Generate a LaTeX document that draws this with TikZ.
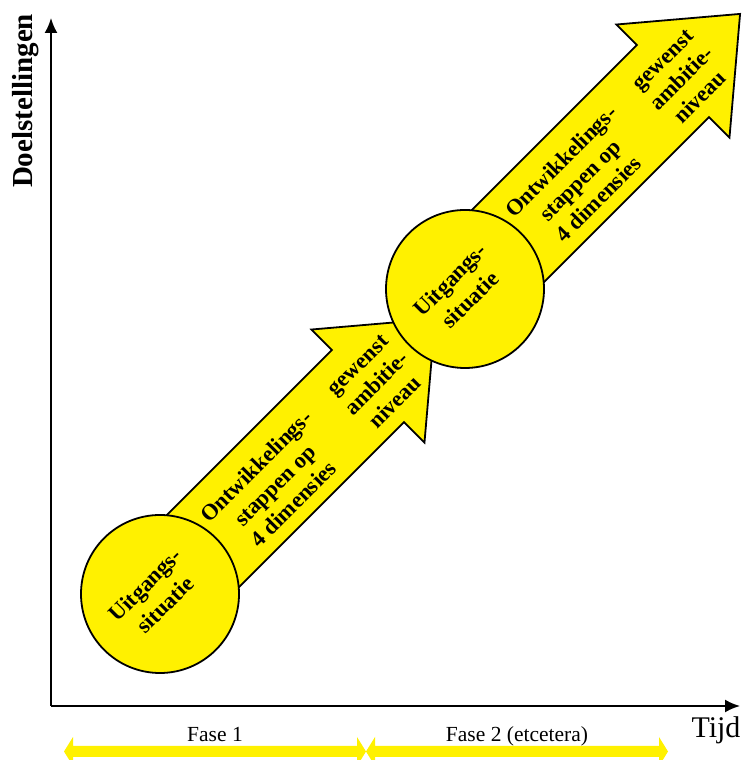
\documentclass[tikz,border=0pt]{standalone}
\usepackage{fontspec}
\setmainfont{Liberation Serif}
\usetikzlibrary{arrows.meta}
\definecolor{arrowyellow}{RGB}{255,241,0}

\begin{document}
\begin{tikzpicture}[x=1pt,y=1pt,
  bigarrow/.style={fill=arrowyellow, draw=black, line width=1.8pt, line join=miter},
  stagecircle/.style={circle, fill=arrowyellow, draw=black, line width=1.8pt,
    minimum size=158pt, inner sep=0pt},
  arrowtext/.style={font=\fontsize{22.5}{26.5}\selectfont\bfseries, align=center,
    rotate=45, inner sep=0pt},
  circletext/.style={font=\fontsize{22.5}{28}\selectfont\bfseries, align=center,
    rotate=45, inner sep=0pt},
  axisline/.style={line width=2pt, -{Latex[length=15pt,width=13pt]}},
  phasearrow/.style={fill=arrowyellow},
  phasetext/.style={font=\fontsize{21.5}{24}\selectfont, anchor=base, inner sep=0pt},
]
\useasboundingbox (0,0) rectangle (742,760);

% axes
\coordinate (origin) at (51,54);
\coordinate (ytip) at (51,742);
\coordinate (xtip) at (740,54);
\draw[axisline] (origin) -- (ytip);
\draw[axisline] (origin) -- (xtip);
\node[rotate=90, font=\fontsize{29}{32}\selectfont\bfseries, inner sep=0pt]
  (ylabel) at (26,659) {Doelstellingen};
\node[font=\fontsize{30}{32}\selectfont, anchor=base, inner sep=0pt]
  (xlabel) at (716,23) {Tijd};

% stage centres
\coordinate (c1) at (160,166);
\coordinate (c2) at (465,471);

% two development arrows, each starting in its stage circle
\foreach \c in {c1,c2}{
  \begin{scope}[shift={(\c)}, rotate=45]
    \draw[bigarrow] (0,-51) -- (294,-51) -- (294,-80) -- (389,0)
      -- (294,80) -- (294,51) -- (0,51) -- cycle;
  \end{scope}
}

% stage circles
\node[stagecircle] (stage1) at (c1) {};
\node[stagecircle] (stage2) at (c2) {};

% labels on circles and arrows
\begin{scope}[shift={(c1)}, rotate=45]
  \node[circletext] (start1) at (-4,3) {Uitgangs-\\situatie};
  \node[arrowtext] (steps1) at (158,-4) {Ontwikkelings-\\stappen op\\4 dimensies};
  \node[arrowtext] (goal1) at (302,-5) {gewenst\\ambitie-\\niveau};
\end{scope}
\begin{scope}[shift={(c2)}, rotate=45]
  \node[circletext] (start2) at (-4,3) {Uitgangs-\\situatie};
  \node[arrowtext] (steps2) at (158,-4) {Ontwikkelings-\\stappen op\\4 dimensies};
  \node[arrowtext] (goal2) at (302,-5) {gewenst\\ambitie-\\niveau};
\end{scope}

% phase spans below the time axis
\foreach \a/\b in {64/366, 366/668}{
  \fill[phasearrow] (\a,8.5) -- (\a+9,23) -- (\a+9,14) -- (\b-9,14) -- (\b-9,23)
    -- (\b,8.5) -- (\b-9,-6) -- (\b-9,3) -- (\a+9,3) -- (\a+9,-6) -- cycle;
}
\node[phasetext] (phase1) at (215,19) {Fase 1};
\node[phasetext] (phase2) at (517,19) {Fase 2 (etcetera)};
\end{tikzpicture}
\end{document}
